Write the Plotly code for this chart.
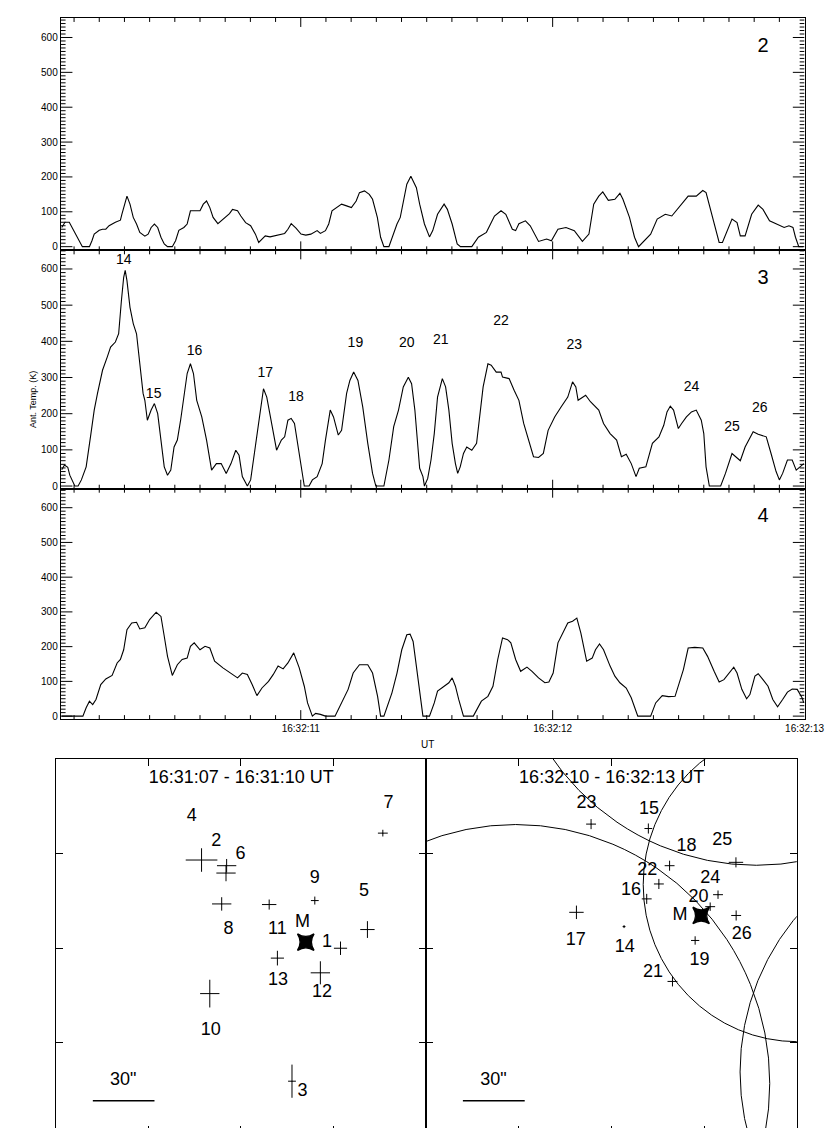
import plotly.graph_objects as go

# ---------------- time-series data (seconds after 16:32:00, antenna temperature K) -------------
series2 = [(10.051, 55), (10.064, 70), (10.081, 70), (10.096, 50), (10.116, 27), (10.133, 0), (10.148, 0),
           (10.161, 0), (10.171, 17), (10.180, 36), (10.200, 47), (10.213, 50), (10.226, 50), (10.239, 60),
           (10.264, 70), (10.284, 76), (10.290, 93), (10.301, 126), (10.310, 145), (10.322, 122), (10.335, 84),
           (10.348, 65), (10.361, 41), (10.381, 30), (10.394, 36), (10.406, 55), (10.419, 65), (10.432, 55),
           (10.445, 27), (10.458, 8), (10.471, 0), (10.490, 0), (10.503, 17), (10.516, 47), (10.536, 55),
           (10.549, 65), (10.562, 103), (10.574, 103), (10.600, 103), (10.613, 122), (10.626, 131),
           (10.639, 112), (10.652, 84), (10.671, 66), (10.691, 79), (10.717, 95), (10.729, 107), (10.749, 103),
           (10.762, 88), (10.781, 69), (10.801, 60), (10.820, 36), (10.833, 12), (10.846, 22), (10.859, 31),
           (10.878, 28), (10.897, 31), (10.917, 36), (10.936, 38), (10.949, 50), (10.962, 66), (10.981, 53),
           (11.001, 36), (11.020, 33), (11.040, 36), (11.065, 46), (11.078, 38), (11.098, 46), (11.111, 65),
           (11.124, 103), (11.143, 112), (11.162, 122), (11.182, 117), (11.201, 112), (11.220, 131),
           (11.233, 155), (11.253, 160), (11.272, 150), (11.285, 136), (11.304, 84), (11.317, 27), (11.330, 0),
           (11.350, 0), (11.363, 27), (11.382, 65), (11.395, 84), (11.408, 131), (11.421, 179), (11.437, 202),
           (11.459, 169), (11.472, 122), (11.491, 65), (11.511, 28), (11.524, 46), (11.543, 93), (11.569, 122),
           (11.582, 107), (11.601, 65), (11.621, 8), (11.634, 0), (11.679, 0), (11.705, 27), (11.737, 41),
           (11.769, 88), (11.795, 103), (11.814, 93), (11.840, 50), (11.853, 46), (11.866, 66), (11.892, 74),
           (11.911, 60), (11.944, 15), (11.976, 22), (11.995, 17), (12.021, 50), (12.053, 55), (12.086, 46),
           (12.118, 15), (12.144, 36), (12.163, 122), (12.183, 145), (12.199, 157), (12.221, 133),
           (12.247, 136), (12.267, 153), (12.279, 136), (12.305, 84), (12.325, 27), (12.341, 0), (12.357, 12),
           (12.389, 36), (12.415, 79), (12.447, 93), (12.473, 88), (12.499, 112), (12.538, 145), (12.570, 145),
           (12.596, 161), (12.609, 155), (12.628, 103), (12.661, 12), (12.674, 12), (12.693, 46), (12.712, 79),
           (12.732, 69), (12.745, 31), (12.764, 31), (12.790, 93), (12.816, 119), (12.835, 107), (12.861, 74),
           (12.887, 65), (12.919, 55), (12.938, 60), (12.954, 55), (12.964, 27), (12.977, 0), (12.995, 0)]

series3 = [(10.051, 45), (10.062, 58), (10.075, 52), (10.083, 30), (10.103, 0), (10.116, 0), (10.129, 17),
           (10.148, 53), (10.167, 145), (10.180, 210), (10.193, 256), (10.213, 320), (10.232, 357),
           (10.245, 384), (10.264, 398), (10.277, 421), (10.288, 513), (10.297, 577), (10.303, 596),
           (10.310, 568), (10.322, 494), (10.335, 449), (10.348, 421), (10.361, 347), (10.374, 256),
           (10.381, 237), (10.391, 182), (10.406, 210), (10.419, 228), (10.432, 200), (10.445, 118),
           (10.458, 53), (10.471, 30), (10.484, 44), (10.497, 108), (10.510, 127), (10.523, 182), (10.536, 246),
           (10.549, 311), (10.562, 338), (10.574, 311), (10.587, 237), (10.607, 191), (10.626, 127),
           (10.646, 44), (10.665, 62), (10.684, 62), (10.704, 35), (10.723, 62), (10.742, 99), (10.755, 85),
           (10.768, 26), (10.788, 0), (10.801, 17), (10.820, 108), (10.839, 200), (10.852, 269), (10.865, 246),
           (10.885, 173), (10.904, 99), (10.923, 127), (10.936, 136), (10.949, 182), (10.962, 187),
           (10.975, 173), (10.994, 90), (11.014, 0), (11.033, 0), (11.046, 17), (11.065, 26), (11.085, 62),
           (11.098, 127), (11.117, 210), (11.130, 191), (11.149, 141), (11.162, 154), (11.182, 256),
           (11.195, 292), (11.210, 315), (11.227, 292), (11.246, 219), (11.266, 118), (11.285, 35), (11.298, 0),
           (11.330, 0), (11.350, 72), (11.369, 164), (11.388, 210), (11.407, 274), (11.427, 301), (11.440, 283),
           (11.453, 210), (11.466, 108), (11.472, 49), (11.485, 26), (11.491, 0), (11.504, 21), (11.517, 72),
           (11.530, 145), (11.543, 246), (11.562, 297), (11.575, 274), (11.588, 210), (11.601, 118),
           (11.614, 62), (11.623, 35), (11.633, 53), (11.646, 90), (11.659, 108), (11.679, 99), (11.698, 118),
           (11.711, 200), (11.724, 274), (11.743, 338), (11.756, 334), (11.776, 315), (11.795, 315),
           (11.801, 301), (11.827, 297), (11.847, 265), (11.866, 237), (11.885, 173), (11.905, 127),
           (11.924, 81), (11.944, 79), (11.963, 90), (11.982, 154), (12.008, 191), (12.034, 219), (12.060, 246),
           (12.079, 288), (12.092, 274), (12.101, 237), (12.118, 246), (12.131, 251), (12.150, 233),
           (12.183, 210), (12.202, 173), (12.228, 145), (12.254, 127), (12.273, 81), (12.292, 88), (12.312, 62),
           (12.331, 26), (12.344, 49), (12.370, 53), (12.396, 118), (12.422, 136), (12.441, 168), (12.454, 205),
           (12.467, 221), (12.480, 210), (12.499, 159), (12.512, 173), (12.531, 191), (12.551, 205),
           (12.570, 210), (12.590, 182), (12.600, 145), (12.609, 53), (12.622, 0), (12.667, 0), (12.686, 35),
           (12.712, 90), (12.725, 81), (12.745, 70), (12.764, 108), (12.796, 150), (12.816, 143), (12.848, 136),
           (12.867, 90), (12.887, 40), (12.900, 17), (12.913, 35), (12.932, 72), (12.951, 72), (12.967, 44),
           (12.984, 53), (12.997, 62)]

series4 = [(10.051, 0), (10.135, 0), (10.148, 24), (10.161, 43), (10.174, 33), (10.187, 48), (10.206, 91),
           (10.226, 107), (10.251, 117), (10.271, 153), (10.284, 163), (10.297, 191), (10.310, 249),
           (10.329, 268), (10.348, 270), (10.361, 251), (10.381, 254), (10.400, 278), (10.426, 299),
           (10.445, 287), (10.458, 230), (10.471, 172), (10.490, 117), (10.510, 148), (10.529, 163),
           (10.549, 167), (10.562, 201), (10.577, 211), (10.600, 191), (10.620, 201), (10.639, 196),
           (10.658, 158), (10.691, 139), (10.729, 120), (10.749, 110), (10.768, 124), (10.788, 120),
           (10.807, 91), (10.826, 59), (10.846, 81), (10.872, 100), (10.891, 120), (10.910, 144), (10.930, 136),
           (10.949, 153), (10.972, 182), (10.994, 139), (11.014, 86), (11.027, 38), (11.046, 0), (11.059, 8),
           (11.078, 5), (11.098, 0), (11.136, 0), (11.162, 38), (11.188, 77), (11.208, 124), (11.233, 148),
           (11.266, 148), (11.285, 124), (11.305, 57), (11.317, 0), (11.330, 0), (11.343, 29), (11.362, 67),
           (11.382, 124), (11.401, 191), (11.421, 234), (11.434, 236), (11.446, 215), (11.459, 144),
           (11.472, 57), (11.485, 0), (11.511, 0), (11.530, 38), (11.543, 72), (11.569, 86), (11.588, 96),
           (11.601, 110), (11.614, 86), (11.627, 48), (11.646, 0), (11.685, 0), (11.705, 29), (11.717, 43),
           (11.743, 57), (11.763, 86), (11.782, 163), (11.801, 225), (11.821, 220), (11.834, 211),
           (11.853, 163), (11.873, 129), (11.898, 141), (11.918, 129), (11.944, 110), (11.969, 96),
           (11.985, 98), (12.002, 124), (12.021, 211), (12.040, 239), (12.060, 268), (12.079, 273),
           (12.096, 282), (12.112, 239), (12.135, 158), (12.157, 167), (12.170, 191), (12.186, 208),
           (12.202, 191), (12.228, 144), (12.247, 115), (12.267, 96), (12.292, 81), (12.312, 53), (12.325, 24),
           (12.338, 0), (12.389, 0), (12.409, 38), (12.435, 59), (12.460, 56), (12.486, 57), (12.502, 96),
           (12.519, 134), (12.538, 196), (12.564, 198), (12.596, 196), (12.615, 172), (12.641, 129),
           (12.661, 98), (12.680, 105), (12.699, 124), (12.719, 141), (12.732, 124), (12.751, 77), (12.770, 50),
           (12.783, 62), (12.803, 115), (12.816, 122), (12.835, 105), (12.855, 86), (12.874, 48), (12.893, 27),
           (12.913, 48), (12.932, 69), (12.951, 78), (12.971, 77), (12.990, 53), (12.997, 38)]

# burst labels in the middle panel (time, level)
burst_ids = ["14", "15", "16", "17", "18", "19", "20", "21", "22", "23", "24", "25", "26"]
burst_t = [10.297, 10.416, 10.578, 10.859, 10.981, 11.217, 11.421, 11.556, 11.795, 12.086, 12.551, 12.712, 12.822]
burst_v = [623, 254, 373, 312, 246, 395, 393, 403, 455, 389, 272, 162, 214]

panel_ids = ["2", "3", "4"]
panel_label_t = 12.835
panel_label_v = 572

time_prefix = "16:32:"

# ---------------- maps (arcsec in a 180" x 180" field) ----------------
left_ids = ["4", "2", "6", "8", "11", "9", "7", "5", "1", "13", "12", "10", "3"]
left_x = [70.9, 83.1, 82.8, 80.7, 103.8, 126.0, 159.1, 151.6, 138.5, 107.8, 128.7, 74.9, 114.9]
left_y = [131.9, 129.2, 125.7, 111.0, 110.7, 112.6, 144.7, 98.8, 89.9, 85.2, 78.2, 68.3, 26.6]
left_ex = [7.7, 4.7, 4.7, 4.7, 3.5, 1.9, 2.4, 3.5, 3.2, 3.2, 4.7, 4.7, 1.9]
left_ey = [5.6, 3.2, 3.9, 3.2, 2.4, 1.9, 1.6, 4.0, 3.2, 3.5, 5.5, 6.6, 7.9]
left_lab_x = [66.1, 78.0, 89.9, 84.0, 107.8, 126.0, 161.9, 150.0, 131.9, 108.1, 129.5, 75.4, 120.0]
left_lab_y = [152.6, 140.6, 134.7, 98.8, 98.8, 122.9, 159.0, 117.0, 92.8, 74.6, 69.0, 50.8, 21.6]
left_M = (121.6, 92.8)
left_M_label = (120.0, 102.0)
left_title = "16:31:07 - 16:31:10 UT"

right_ids = ["23", "15", "18", "25", "22", "24", "16", "20", "26", "19", "14", "17", "21"]
right_x = [80.2, 108.0, 118.3, 150.5, 113.1, 141.8, 107.2, 138.0, 150.6, 130.7, 96.2, 73.1, 119.7]
right_y = [149.0, 146.9, 129.2, 130.8, 120.5, 115.4, 113.4, 109.7, 105.5, 93.6, 100.2, 107.0, 74.1]
right_ex = [2.4, 1.9, 2.4, 3.5, 2.4, 2.4, 2.4, 2.4, 2.4, 2.0, 0.7, 3.5, 2.4]
right_ey = [2.4, 2.4, 2.4, 2.4, 2.4, 2.0, 2.4, 2.0, 2.4, 2.0, 0.7, 3.2, 2.4]
right_lab_x = [78.0, 108.3, 126.5, 143.9, 107.5, 138.0, 99.6, 132.3, 153.3, 132.8, 96.5, 72.8, 110.3]
right_lab_y = [159.0, 156.1, 138.4, 141.1, 126.8, 123.2, 117.3, 114.1, 96.3, 84.1, 90.4, 93.6, 78.2]
right_M = (133.6, 105.5)
right_M_label = (123.3, 105.5)
right_title = "16:32:10 - 16:32:13 UT"

# beam circles in the right map: centre x, centre y, radius (arcsec)
circle_cx = [180.3, 43.6, 160.4, 266.1]
circle_cy = [120.2, 25.5, 251.1, 31.0]
circle_r = [74.8, 123.3, 121.7, 113.6]

scale_bar_x = [18.0, 48.0]
scale_bar_y = 17.3
scale_label = '30"'
scale_label_pos = (32.8, 27.0)

# ---------------- layout helpers ----------------
W, H = 839, 1128
FONT = "Liberation Sans, Arial, Helvetica, sans-serif"


def fx(px):
    return px / W


def fy(py):
    return 1 - py / H


fig = go.Figure()

# time-panel geometry (pixels) and axis ranges
XPIX = (54, 816)
XRANGE = (10.047, 13.0)
YPIX = [(10, 243), (243, 482), (482, 713)]
YRANGES = [(-10.6, 656), (-7.4, 651.5), (-8.6, 654.6)]

line_style = dict(color="black", width=1.1)
for i, s in enumerate([series2, series3, series4]):
    ax = "" if i == 0 else str(i + 1)
    fig.add_trace(go.Scatter(x=[p[0] for p in s], y=[p[1] for p in s], mode="lines", line=line_style,
                             xaxis="x" + ax, yaxis="y" + ax, showlegend=False, hoverinfo="skip"))
    fig.add_trace(go.Scatter(x=[panel_label_t], y=[panel_label_v], mode="text", text=[panel_ids[i]],
                             textfont=dict(size=20, family=FONT, color="black"),
                             xaxis="x" + ax, yaxis="y" + ax, showlegend=False, hoverinfo="skip"))

    # inward tick marks (major + minor) on all four sides of the panel
    ylo, yhi = YRANGES[i]
    x_per_px = (XRANGE[1] - XRANGE[0]) / (XPIX[1] - XPIX[0])
    y_per_px = (yhi - ylo) / (YPIX[i][1] - YPIX[i][0])
    tx, ty = [], []
    v = 0
    while v <= yhi:
        ln = (12 if v % 100 == 0 else 5) * x_per_px
        tx += [XRANGE[0], XRANGE[0] + ln, None, XRANGE[1] - ln, XRANGE[1], None]
        ty += [v, v, None, v, v, None]
        v += 10
    for j in range(1, 30):
        t = 10.0 + j * 0.1
        if t <= XRANGE[0]:
            continue
        ln = (9 if j % 10 == 0 else 4) * y_per_px
        tx += [t, t, None, t, t, None]
        ty += [ylo, ylo + ln, None, yhi - ln, yhi, None]
    fig.add_trace(go.Scatter(x=tx, y=ty, mode="lines", line=dict(color="black", width=1),
                             xaxis="x" + ax, yaxis="y" + ax, showlegend=False, hoverinfo="skip"))

fig.add_trace(go.Scatter(x=burst_t, y=burst_v, mode="text", text=burst_ids,
                         textfont=dict(size=14, family=FONT, color="black"),
                         xaxis="x2", yaxis="y2", showlegend=False, hoverinfo="skip"))

# maps
for (xs, ys, ex, ey, labx, laby, ids, M, ML, title, ax) in [
    (left_x, left_y, left_ex, left_ey, left_lab_x, left_lab_y, left_ids, left_M, left_M_label, left_title, "4"),
    (right_x, right_y, right_ex, right_ey, right_lab_x, right_lab_y, right_ids, right_M, right_M_label,
     right_title, "5")]:
    fig.add_trace(go.Scatter(x=xs, y=ys, mode="markers", marker=dict(size=1, color="black"),
                             error_x=dict(type="data", array=ex, symmetric=True, width=0, thickness=1,
                                          color="black"),
                             error_y=dict(type="data", array=ey, symmetric=True, width=0, thickness=1,
                                          color="black"),
                             xaxis="x" + ax, yaxis="y" + ax, showlegend=False, hoverinfo="skip"))
    fig.add_trace(go.Scatter(x=labx + [ML[0], 90.2, scale_label_pos[0]],
                             y=laby + [ML[1], 170.7, scale_label_pos[1]],
                             mode="text", text=ids + ["M", title, scale_label],
                             textfont=dict(size=18, family=FONT, color="black"),
                             xaxis="x" + ax, yaxis="y" + ax, showlegend=False, hoverinfo="skip"))
    fig.add_trace(go.Scatter(x=[M[0]], y=[M[1]], mode="markers",
                             marker=dict(symbol="star-square", size=15, color="black",
                                         line=dict(width=1.5, color="black")),
                             xaxis="x" + ax, yaxis="y" + ax, showlegend=False, hoverinfo="skip"))
    fig.add_trace(go.Scatter(x=scale_bar_x, y=[scale_bar_y, scale_bar_y], mode="lines",
                             line=dict(color="black", width=1.5),
                             xaxis="x" + ax, yaxis="y" + ax, showlegend=False, hoverinfo="skip"))

for cx, cy, r in zip(circle_cx, circle_cy, circle_r):
    fig.add_shape(type="circle", xref="x5", yref="y5", x0=cx - r, x1=cx + r, y0=cy - r, y1=cy + r,
                  line=dict(color="black", width=1))

# time axes (labels from the axes, tick marks drawn above)
xdom = [fx(XPIX[0]), fx(XPIX[1])]
for i in range(3):
    k = "" if i == 0 else str(i + 1)
    fig.layout["xaxis" + k] = dict(
        domain=xdom, range=list(XRANGE), anchor="y" + k,
        tickmode="linear", tick0=0, dtick=1, tickprefix=time_prefix,
        showticklabels=(i == 2), ticks="",
        showline=True, linecolor="black", mirror=True,
        showgrid=False, zeroline=False)
    fig.layout["yaxis" + k] = dict(
        domain=[fy(YPIX[i][1]), fy(YPIX[i][0])], range=list(YRANGES[i]), anchor="x" + k,
        tickmode="linear", tick0=0, dtick=100, ticks="",
        showline=True, linecolor="black", mirror=True,
        showgrid=False, zeroline=False)

# map axes
map_ydom = [0, fy(753)]
map_yrange = [180 - (H - 753) / 2.106, 180]
for k, dom in [("4", [fx(49), fx(428)]), ("5", [fx(428), fx(808)])]:
    fig.layout["xaxis" + k] = dict(
        domain=dom, range=[0, 180], anchor="y" + k, tickmode="linear", tick0=0, dtick=45,
        showticklabels=False, ticks="inside", ticklen=7, tickcolor="black",
        showline=True, linecolor="black", mirror="ticks", showgrid=False, zeroline=False)
    fig.layout["yaxis" + k] = dict(
        domain=map_ydom, range=map_yrange, anchor="x" + k, tickmode="linear", tick0=0, dtick=45,
        showticklabels=False, ticks="inside", ticklen=7, tickcolor="black",
        showline=True, linecolor="black", mirror="ticks", showgrid=False, zeroline=False)

fig.add_annotation(text="Ant. Temp. (K)", xref="paper", yref="paper", x=fx(18), y=fy(362),
                   textangle=-90, showarrow=False, font=dict(size=9, family=FONT, color="black"))
fig.add_annotation(text="UT", xref="paper", yref="paper", x=fx(430), y=fy(738),
                   yanchor="middle", showarrow=False, font=dict(size=10, family=FONT, color="black"))

fig.update_layout(width=W, height=H, margin=dict(l=0, r=0, t=0, b=0),
                  font=dict(family=FONT, size=10, color="black"),
                  paper_bgcolor="white", plot_bgcolor="white", showlegend=False)

fig.write_html("out.html")
